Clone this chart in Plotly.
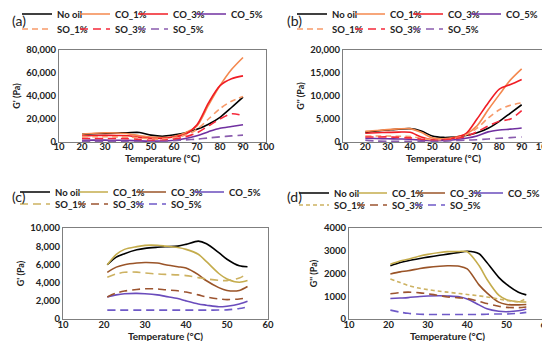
import plotly.graph_objects as go

# ---------------- data ----------------
series_names = ["No oil", "CO_1%", "CO_3%", "CO_5%", "SO_1%", "SO_3%", "SO_5%"]

temp_ab = [20, 25, 30, 35, 40, 45, 50, 55, 60, 65, 70, 75, 80, 85, 90]

a_no_oil = [6700, 7200, 7500, 7800, 8100, 8300, 6000, 5000, 6200, 8000, 11000, 15500, 21500, 30000, 39000]
a_co1 = [6800, 7600, 8000, 7800, 7200, 5500, 4300, 3900, 4800, 8000, 14000, 32000, 49000, 63000, 73500]
a_co3 = [5200, 5700, 5800, 5700, 5500, 4000, 3200, 3200, 4300, 6700, 15000, 34000, 49000, 55000, 57500]
a_co5 = [1500, 1600, 1600, 1500, 1400, 1000, 800, 900, 1500, 3000, 5500, 9000, 12000, 13500, 15000]
a_so1 = [4500, 4600, 4600, 4500, 4400, 3500, 2600, 2600, 3800, 6000, 11000, 20000, 29000, 35500, 39500]
a_so3 = [3000, 3100, 3100, 3000, 2900, 2200, 1500, 1500, 2500, 4500, 8000, 14000, 20000, 24500, 23000]
a_so5 = [600, 600, 600, 600, 500, 400, 400, 600, 1200, 1800, 2500, 3500, 4500, 5300, 6000]

b_no_oil = [2100, 2400, 2600, 2800, 2900, 2400, 1300, 1000, 1100, 1400, 2000, 3000, 4500, 6300, 8100]
b_co1 = [2300, 2500, 2700, 2850, 2900, 2100, 900, 700, 1000, 1700, 3500, 7000, 10300, 13500, 15900]
b_co3 = [1900, 2000, 2100, 2150, 2100, 1100, 500, 500, 900, 1800, 5000, 8500, 11500, 12500, 13600]
b_co5 = [800, 750, 700, 650, 600, 400, 300, 350, 500, 800, 1300, 2200, 2600, 2800, 3050]
b_so1 = [1300, 1300, 1300, 1250, 1200, 800, 500, 500, 800, 1500, 3000, 5200, 7000, 8000, 8500]
b_so3 = [1100, 1100, 1100, 1000, 900, 600, 400, 400, 700, 1200, 2200, 3500, 4500, 5000, 6800]
b_so5 = [400, 200, 150, 150, 150, 150, 150, 200, 300, 400, 500, 650, 800, 950, 1100]

temp_c = [20.8, 23, 25, 28, 30, 33, 35, 38, 40, 43, 45, 48, 50, 53, 55]
c_no_oil = [5960, 6800, 7180, 7600, 7760, 7880, 7940, 8010, 8200, 8560, 8270, 7300, 6570, 5850, 5740]
c_co1 = [5960, 7100, 7650, 7950, 8090, 8100, 8010, 7850, 7650, 7110, 6300, 5000, 4400, 4040, 4220]
c_co3 = [5130, 5700, 5960, 6150, 6210, 6150, 5960, 5750, 5600, 4870, 4200, 3450, 3140, 3140, 3570]
c_co5 = [2420, 2650, 2780, 2820, 2780, 2650, 2490, 2250, 1990, 1650, 1520, 1340, 1410, 1650, 1950]
c_so1 = [4580, 4950, 5130, 5150, 5050, 4950, 4900, 4850, 4770, 4550, 4400, 4250, 4220, 4500, 5020]
c_so3 = [2420, 2850, 3070, 3250, 3320, 3300, 3210, 3100, 2960, 2650, 2420, 2200, 2130, 2200, 2350]
c_so5 = [975, 975, 975, 975, 975, 975, 975, 975, 975, 975, 975, 985, 1000, 1150, 1320]

temp_d = [20.5, 23, 25, 28, 30, 33, 35, 38, 40, 43, 45, 48, 50, 53, 55]
d_no_oil = [2340, 2480, 2560, 2660, 2720, 2800, 2850, 2930, 2980, 2870, 2480, 1830, 1520, 1180, 1060]
d_co1 = [2410, 2550, 2630, 2770, 2840, 2920, 2960, 2970, 2960, 2350, 1750, 1050, 850, 760, 750]
d_co3 = [1980, 2070, 2120, 2220, 2270, 2320, 2340, 2320, 2200, 1500, 1150, 740, 640, 620, 640]
d_co5 = [900, 920, 940, 990, 1010, 1020, 1010, 980, 880, 620, 450, 340, 320, 360, 440]
d_so1 = [1760, 1600, 1470, 1350, 1290, 1220, 1180, 1120, 1080, 1020, 970, 880, 820, 760, 900]
d_so3 = [1110, 1160, 1180, 1150, 1110, 1030, 970, 930, 900, 780, 680, 560, 510, 500, 530]
d_so5 = [390, 300, 250, 210, 200, 200, 200, 200, 200, 200, 210, 220, 220, 250, 290]

panel_labels = ["(a)", "(b)", "(c)", "(d)"]
y_titles = ["G' (Pa)", "G'' (Pa)", "G' (Pa)", "G'' (Pa)"]
x_title = "Temperature (°C)"

# ---------------- styles ----------------
colors_ab = ["#000000", "#F4884E", "#F01C24", "#7030A0", "#F79A6A", "#F5283A", "#8A5CAE"]
colors_cd = ["#000000", "#C4AC4C", "#9A5428", "#6A4CBC", "#CDB262", "#9C5430", "#6F5AC8"]
dashes_ab = ["solid", "solid", "solid", "solid", "6px,4px", "8px,5px", "8px,5px"]
dashes_c = ["solid", "solid", "solid", "solid", "8px,5px", "8px,5px", "8px,5px"]
dashes_d = ["solid", "solid", "solid", "solid", "4px,3px", "8px,5px", "8px,5px"]

FONT = "Lato"
W, H = 550, 341

panels = [
    dict(t=temp_ab, ys=[a_no_oil, a_co1, a_co3, a_co5, a_so1, a_so3, a_so5], colors=colors_ab, dashes=dashes_ab,
         xd=(51, 258), yd=(42, 134), xr=[10, 100], yr=[0, 80000], dt=20000, fmt=",d", tso=-4),
    dict(t=temp_ab, ys=[b_no_oil, b_co1, b_co3, b_co5, b_so1, b_so3, b_so5], colors=colors_ab, dashes=dashes_ab,
         xd=(335, 536), yd=(42, 134), xr=[10, 100], yr=[0, 20000], dt=5000, fmt=",d", tso=-4),
    dict(t=temp_c, ys=[c_no_oil, c_co1, c_co3, c_co5, c_so1, c_so3, c_so5], colors=colors_cd, dashes=dashes_c,
         xd=(55, 260), yd=(220, 311), xr=[10, 60], yr=[0, 10000], dt=2000, fmt=",d", tso=-3),
    dict(t=temp_d, ys=[d_no_oil, d_co1, d_co3, d_co5, d_so1, d_so3, d_so5], colors=colors_cd, dashes=dashes_d,
         xd=(341, 538), yd=(220, 311), xr=[10, 60], yr=[0, 4000], dt=1000, fmt="d", tso=-3),
]
# legend rows: (left x px, row1 centre y px, row2 centre y px)
legend_pos = [(9, 6, 21), (284, 6, 21), (7, 184, 196), (286, 185, 197)]
label_pos = [(2, 13), (277, 13), (2, 189), (277, 189)]

fig = go.Figure()
layout = dict(width=W, height=H, margin=dict(l=0, r=0, t=0, b=0, autoexpand=False), paper_bgcolor="white",
              plot_bgcolor="white", font=dict(family=FONT, color="#222222"), annotations=[])

for i, p in enumerate(panels):
    n = "" if i == 0 else str(i + 1)
    lx, ly1, ly2 = legend_pos[i]
    leg_ids = []
    for r, ly in enumerate((ly1, ly2)):
        idx = i * 2 + r + 1
        lid = "legend" if idx == 1 else "legend%d" % idx
        leg_ids.append(lid)
        layout[lid] = dict(orientation="h", x=lx / W, y=1 - ly / H, xanchor="left", yanchor="middle",
                           entrywidth=13, itemwidth=30, bgcolor="rgba(0,0,0,0)", borderwidth=0,
                           font=dict(size=9.5, family=FONT, weight="bold", color="#222"))
    for k, name in enumerate(series_names):
        last_in_row = k in (3, 6)
        fig.add_trace(go.Scatter(
            x=p["t"], y=p["ys"][k], name=name, mode="lines",
            line=dict(color=p["colors"][k], width=1.6, dash=p["dashes"][k], shape="spline", smoothing=0.8),
            xaxis="x" + n, yaxis="y" + n, legend=leg_ids[0] if k < 4 else leg_ids[1],
            legendwidth=36 if last_in_row else None))
    layout["xaxis" + n] = dict(
        domain=[p["xd"][0] / W, p["xd"][1] / W], range=p["xr"], anchor="y" + n,
        dtick=10, tick0=10, showgrid=False, zeroline=False, showline=True, mirror=True,
        linecolor="#7f7f7f", linewidth=1, ticks="", automargin=False, ticklabelstandoff=p["tso"],
        tickfont=dict(size=9.5, family=FONT, weight="bold", color="#222"),
        title=dict(text=x_title, font=dict(size=10, family=FONT, weight="bold", color="#222"), standoff=0))
    layout["yaxis" + n] = dict(
        domain=[1 - p["yd"][1] / H, 1 - p["yd"][0] / H], range=p["yr"], anchor="x" + n,
        dtick=p["dt"], tickformat=p["fmt"], showgrid=False, zeroline=False, showline=True, mirror=True,
        linecolor="#7f7f7f", linewidth=1, ticks="", automargin=False,
        tickfont=dict(size=9.5, family=FONT, weight="bold", color="#222"),
        title=dict(text=y_titles[i], font=dict(size=9, family=FONT, weight="bold", color="#222"), standoff=4))
    ax, ay = label_pos[i]
    layout["annotations"].append(dict(text=panel_labels[i], xref="paper", yref="paper",
                                      x=ax / W, y=1 - ay / H, xanchor="left", yanchor="middle",
                                      showarrow=False, font=dict(size=14, family=FONT, color="#222")))

fig.update_layout(**layout)
fig.write_html("out.html")
